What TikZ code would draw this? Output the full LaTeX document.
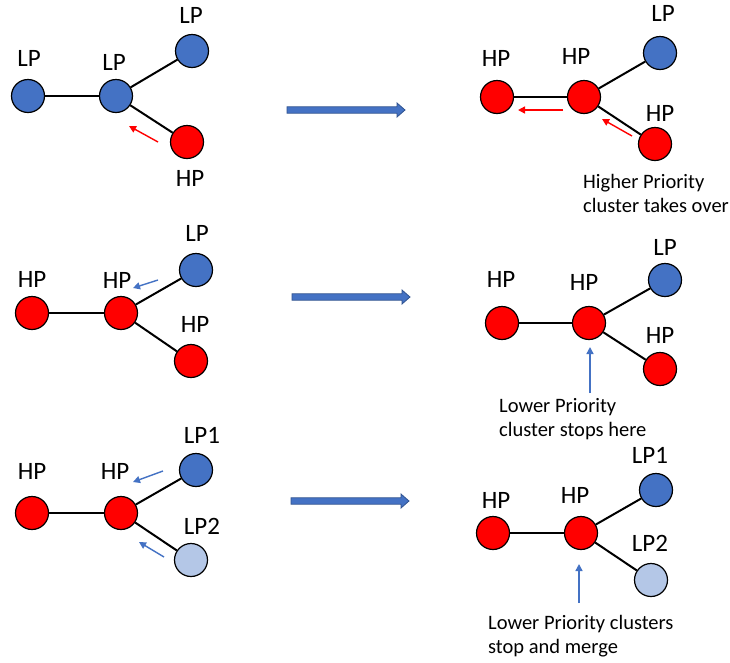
\documentclass[tikz,border=0pt]{standalone}
\usepackage{fontspec}
\setmainfont{Carlito}
\usetikzlibrary{arrows.meta}
\definecolor{nblue}{HTML}{4472C4}
\definecolor{nred}{HTML}{FF0000}
\definecolor{nlight}{HTML}{B4C7E7}
\definecolor{adark}{HTML}{2F528F}
\begin{document}
\begin{tikzpicture}[x=1pt,y=-1pt,
  cnode/.style={circle,draw=black,line width=1.2pt,minimum size=33pt,inner sep=0pt},
  bnode/.style={cnode,fill=nblue},
  rnode/.style={cnode,fill=nred},
  lnode/.style={cnode,fill=nlight},
  lbl/.style={font=\fontsize{25}{29}\selectfont,inner sep=0pt,anchor=center},
  note/.style={font=\fontsize{20.5}{24}\selectfont,inner sep=0pt,anchor=base west},
  edge/.style={line width=2pt,black},
  redarr/.style={nred,line width=1.4pt,-{Triangle[length=7pt,width=7pt]}},
  bluearr/.style={nblue,line width=1.4pt,-{Triangle[length=7pt,width=7pt]}},
  bigarrow/.style={fill=nblue,draw=adark,line width=0.8pt,line join=miter}]
\useasboundingbox (0,0) rectangle (730,662);
\fill[white] (0,0) rectangle (730,662);

% ---------- Panel 1 ----------
\node[bnode] (p1a) at (28,96) {};
\node[bnode] (p1b) at (116,96) {};
\node[bnode] (p1c) at (192,51) {};
\node[rnode] (p1d) at (187,142) {};
\draw[edge] (p1a) -- (p1b);
\draw[edge] (p1b) -- (p1c);
\draw[edge] (p1b) -- (p1d);
\node[lbl] (p1la) at (29,58) {LP};
\node[lbl] (p1lb) at (114,62) {LP};
\node[lbl] (p1lc) at (191,15) {LP};
\node[lbl] (p1ld) at (190,178) {HP};
\coordinate (p1r1s) at (158,142);
\coordinate (p1r1e) at (129,126);
\draw[redarr] (p1r1s) -- (p1r1e);

% ---------- Panel 2 ----------
\node[rnode] (p2a) at (497,97) {};
\node[rnode] (p2b) at (584,97) {};
\node[bnode] (p2c) at (660,53) {};
\node[rnode] (p2d) at (655,144) {};
\draw[edge] (p2a) -- (p2b);
\draw[edge] (p2b) -- (p2c);
\draw[edge] (p2b) -- (p2d);
\node[lbl] (p2la) at (496,58) {HP};
\node[lbl] (p2lb) at (576,56) {HP};
\node[lbl] (p2lc) at (663,13) {LP};
\node[lbl] (p2ld) at (660,113) {HP};
\coordinate (p2r1s) at (563,110);
\coordinate (p2r1e) at (518,110);
\coordinate (p2r2s) at (632,136);
\coordinate (p2r2e) at (602,119);
\draw[redarr] (p2r1s) -- (p2r1e);
\draw[redarr] (p2r2s) -- (p2r2e);
\node[note] (p2t1) at (583,188) {Higher Priority};
\node[note] (p2t2) at (583,212) {cluster takes over};

% ---------- Panel 3 ----------
\node[rnode] (p3a) at (32,313) {};
\node[rnode] (p3b) at (121,313) {};
\node[bnode] (p3c) at (196,270) {};
\node[rnode] (p3d) at (191,361) {};
\draw[edge] (p3a) -- (p3b);
\draw[edge] (p3b) -- (p3c);
\draw[edge] (p3b) -- (p3d);
\node[lbl] (p3la) at (32,279) {HP};
\node[lbl] (p3lb) at (117,280) {HP};
\node[lbl] (p3lc) at (197,233) {LP};
\node[lbl] (p3ld) at (195,324) {HP};
\coordinate (p3b1s) at (158,280);
\coordinate (p3b1e) at (133,288);
\draw[bluearr] (p3b1s) -- (p3b1e);

% ---------- Panel 4 ----------
\node[rnode] (p4a) at (502,323) {};
\node[rnode] (p4b) at (589,323) {};
\node[bnode] (p4c) at (665,280) {};
\node[rnode] (p4d) at (660,369) {};
\draw[edge] (p4a) -- (p4b);
\draw[edge] (p4b) -- (p4c);
\draw[edge] (p4b) -- (p4d);
\node[lbl] (p4la) at (501,279) {HP};
\node[lbl] (p4lb) at (584,282) {HP};
\node[lbl] (p4lc) at (665,247) {LP};
\node[lbl] (p4ld) at (660,335) {HP};
\coordinate (p4b1s) at (590,393);
\coordinate (p4b1e) at (590,347);
\draw[bluearr] (p4b1s) -- (p4b1e);
\node[note] (p4t1) at (499,412) {Lower Priority};
\node[note] (p4t2) at (499,436) {cluster stops here};

% ---------- Panel 5 ----------
\node[rnode] (p5a) at (32,513) {};
\node[rnode] (p5b) at (121,513) {};
\node[bnode] (p5c) at (196,470) {};
\node[lnode] (p5d) at (191,560) {};
\draw[edge] (p5a) -- (p5b);
\draw[edge] (p5b) -- (p5c);
\draw[edge] (p5b) -- (p5d);
\node[lbl] (p5la) at (32,471) {HP};
\node[lbl] (p5lb) at (115,471) {HP};
\node[lbl] (p5lc) at (202,435) {LP1};
\node[lbl] (p5ld) at (202,526) {LP2};
\coordinate (p5b1s) at (163,471);
\coordinate (p5b1e) at (133,482);
\coordinate (p5b2s) at (164,557);
\coordinate (p5b2e) at (139,542);
\draw[bluearr] (p5b1s) -- (p5b1e);
\draw[bluearr] (p5b2s) -- (p5b2e);

% ---------- Panel 6 ----------
\node[rnode] (p6a) at (493,533) {};
\node[rnode] (p6b) at (581,533) {};
\node[bnode] (p6c) at (656,490) {};
\node[lnode] (p6d) at (651,580) {};
\draw[edge] (p6a) -- (p6b);
\draw[edge] (p6b) -- (p6c);
\draw[edge] (p6b) -- (p6d);
\node[lbl] (p6la) at (496,500) {HP};
\node[lbl] (p6lb) at (575,495) {HP};
\node[lbl] (p6lc) at (650,455) {LP1};
\node[lbl] (p6ld) at (650,543) {LP2};
\coordinate (p6b1s) at (579,603);
\coordinate (p6b1e) at (579,564);
\draw[bluearr] (p6b1s) -- (p6b1e);
\node[note] (p6t1) at (488,629) {Lower Priority clusters};
\node[note] (p6t2) at (488,653) {stop and merge};

% ---------- Block arrows ----------
\coordinate (ba1) at (287,110);
\coordinate (ba2) at (292,297);
\coordinate (ba3) at (291,501);
\foreach \c in {ba1,ba2,ba3}{
  \draw[bigarrow] (\c) ++(0,-3.2) -- ++(110,0) -- ++(0,-3.8) -- ++(8,7) -- ++(-8,7) -- ++(0,-3.8) -- ++(-110,0) -- cycle;
}
\end{tikzpicture}
\end{document}
